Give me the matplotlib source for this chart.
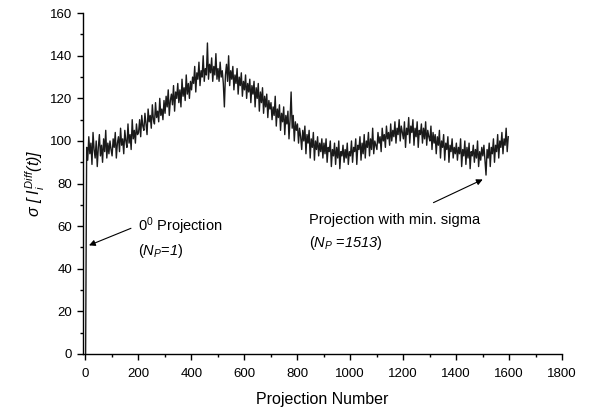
import matplotlib
matplotlib.use("Agg")
import matplotlib.pyplot as plt
from matplotlib.ticker import MultipleLocator

plt.rcParams["font.family"] = ["Liberation Sans", "DejaVu Sans"]
plt.rcParams["mathtext.fontset"] = "custom"
plt.rcParams["mathtext.rm"] = "Liberation Sans:italic"
plt.rcParams["mathtext.it"] = "Liberation Sans:italic"
plt.rcParams["mathtext.sf"] = "Liberation Sans"

# sigma values, one every 4 projections (projection 1, 5, 9, ...)
# each row covers 100 projections
sigma_rows = [
    [0, 97, 91, 102, 94, 99, 89, 104, 96, 92, 100, 88, 97, 103, 93, 98, 90, 101, 95, 105, 92, 99, 94, 100, 96],
    [93, 101, 97, 104, 92, 99, 102, 95, 106, 98, 101, 94, 105, 100, 97, 108, 99, 103, 96, 110, 101, 105, 99, 108, 103],
    [104, 110, 102, 112, 107, 105, 113, 108, 103, 115, 109, 112, 106, 117, 110, 108, 118, 111, 114, 109, 120, 112, 115, 110, 119],
    [113, 121, 116, 124, 112, 119, 122, 117, 126, 114, 123, 120, 127, 118, 124, 116, 129, 121, 125, 119, 131, 122, 127, 120, 128],
    [124, 130, 127, 135, 123, 132, 129, 137, 126, 133, 130, 140, 128, 134, 131, 146, 129, 136, 132, 139, 128, 135, 131, 141, 129],
    [134, 128, 137, 130, 133, 127, 116, 131, 136, 128, 140, 126, 133, 129, 135, 124, 131, 127, 134, 122, 130, 126, 132, 121, 128],
    [124, 131, 120, 127, 123, 129, 118, 126, 122, 128, 116, 125, 120, 127, 114, 123, 118, 125, 113, 121, 116, 122, 111, 119, 115],
    [118, 110, 116, 112, 121, 107, 115, 111, 117, 105, 113, 109, 116, 103, 112, 108, 114, 101, 110, 123, 106, 112, 100, 109, 105],
    [108, 99, 106, 102, 96, 105, 100, 107, 94, 103, 99, 105, 92, 101, 97, 104, 91, 100, 96, 102, 93, 99, 95, 101, 92],
    [99, 94, 101, 90, 97, 95, 100, 88, 96, 93, 99, 89, 97, 92, 100, 87, 95, 93, 98, 90, 96, 92, 99, 89, 95],
    [93, 100, 90, 97, 95, 101, 89, 98, 96, 102, 91, 99, 94, 103, 92, 100, 97, 104, 93, 101, 96, 106, 94, 100, 98],
    [96, 104, 99, 102, 95, 106, 100, 103, 97, 107, 101, 104, 98, 108, 100, 105, 102, 109, 99, 106, 103, 110, 100, 107, 104],
    [101, 109, 97, 106, 103, 111, 99, 107, 104, 110, 98, 106, 102, 109, 97, 105, 103, 108, 99, 106, 101, 109, 98, 105, 102],
    [100, 107, 96, 104, 99, 103, 94, 102, 98, 105, 92, 100, 97, 103, 91, 99, 96, 102, 90, 98, 95, 101, 92, 97, 94],
    [99, 91, 97, 94, 101, 88, 96, 93, 100, 89, 97, 92, 99, 87, 95, 93, 98, 90, 96, 92, 100, 88, 95, 91, 97],
    [93, 98, 91, 84, 96, 92, 99, 88, 97, 94, 101, 90, 98, 95, 103, 92, 100, 97, 104, 94, 101, 98, 106, 95, 102],
]
sigma = [v for row in sigma_rows for v in row]
projection = list(range(1, 4 * len(sigma) + 1, 4))

fig = plt.figure(figsize=(5.89, 4.12), dpi=100)
ax = fig.add_axes([0.1404, 0.1408, 0.8138, 0.8272])

ax.plot(projection, sigma, color="#1a1a1a", linewidth=1.0)

ax.set_xlim(-10, 1800)
ax.set_ylim(0, 160)
ax.xaxis.set_major_locator(MultipleLocator(200))
ax.xaxis.set_minor_locator(MultipleLocator(100))
ax.yaxis.set_major_locator(MultipleLocator(20))
ax.yaxis.set_minor_locator(MultipleLocator(10))
ax.tick_params(which="major", direction="out", length=4, width=1, labelsize=9.5)
ax.tick_params(axis="x", which="major", pad=6)
ax.tick_params(which="minor", direction="out", length=2.5, width=1)
ax.spines["top"].set_visible(False)
ax.spines["right"].set_visible(False)
ax.spines["left"].set_linewidth(1)
ax.spines["bottom"].set_linewidth(1)

ax.set_xlabel("Projection Number", fontsize=11.5, labelpad=9)
ax.set_ylabel(r"$\sigma\ [\ I_i^{Diff}(t)]$", fontsize=11.5, labelpad=2)

ax.annotate("", xy=(4, 50.5), xytext=(182, 59.5),
            arrowprops=dict(arrowstyle="-|>", color="black", lw=0.8, mutation_scale=9))
ax.text(197, 60, r"0$^{\mathsf{0}}$ Projection", fontsize=10.5, va="center")
ax.text(197, 48.5, r"($N_P$=$1$)", fontsize=10.5, va="center")

ax.annotate("", xy=(1510, 82.5), xytext=(1305, 70.5),
            arrowprops=dict(arrowstyle="-|>", color="black", lw=0.8, mutation_scale=9))
ax.text(846, 63, "Projection with min. sigma", fontsize=10.5, va="center")
ax.text(846, 52, r"($N_P$ =$1513$)", fontsize=10.5, va="center")

fig.savefig("out.png", dpi=100)
